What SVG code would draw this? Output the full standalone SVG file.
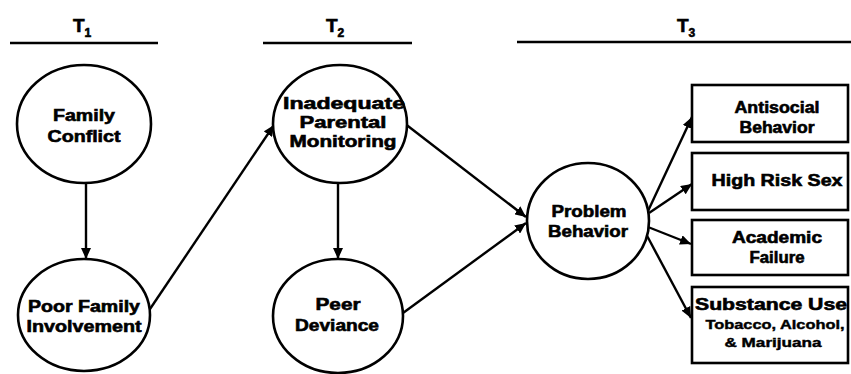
<svg xmlns="http://www.w3.org/2000/svg" width="851" height="374" viewBox="0 0 851 374">
  <defs>
    <marker id="arrow" markerUnits="userSpaceOnUse" markerWidth="12" markerHeight="10" refX="11" refY="5" orient="auto">
      <path d="M0,0 L11,5 L0,10 Z" fill="#000"/>
    </marker>
    <style>
      .node { fill: #fff; stroke: #000; stroke-width: 2.6; }
      .box { fill: #fff; stroke: #000; stroke-width: 2.6; }
      .edge { stroke: #000; stroke-width: 2.4; fill: none; marker-end: url(#arrow); }
      .rule { stroke: #000; stroke-width: 2.4; }
      .lbl { font-family: "Liberation Sans", Arial, sans-serif; font-weight: bold; font-size: 16px; fill: #000; stroke: #000; stroke-width: 0.6; text-anchor: middle; }
      .sm { font-size: 12px; stroke-width: 0.4; }
      .hdr { font-family: "Liberation Sans", Arial, sans-serif; font-weight: bold; font-size: 19px; fill: #000; stroke: #000; stroke-width: 0.6; }
    </style>
  </defs>
  <rect width="851" height="374" fill="#fff"/>

  <!-- time-period headers -->
  <g id="headers">
    <text class="hdr" x="73" y="32">T<tspan font-size="12" dy="5">1</tspan></text>
    <line class="rule" x1="10" y1="43" x2="158" y2="43"/>
    <text class="hdr" x="326" y="32">T<tspan font-size="12" dy="5">2</tspan></text>
    <line class="rule" x1="263" y1="43" x2="412" y2="43"/>
    <text class="hdr" x="677" y="32">T<tspan font-size="12" dy="5">3</tspan></text>
    <line class="rule" x1="517" y1="42" x2="851" y2="42"/>
  </g>

  <!-- connectors -->
  <g id="connectors">
    <line class="edge" x1="86" y1="183" x2="86" y2="259"/>
    <line class="edge" x1="150" y1="309" x2="274" y2="125"/>
    <line class="edge" x1="338" y1="183" x2="338" y2="259"/>
    <line class="edge" x1="404" y1="123" x2="526" y2="217"/>
    <line class="edge" x1="403" y1="313" x2="526" y2="223"/>
    <line class="edge" x1="648" y1="211" x2="692" y2="117"/>
    <line class="edge" x1="649" y1="213" x2="692" y2="184"/>
    <line class="edge" x1="648" y1="227" x2="691" y2="244"/>
    <line class="edge" x1="645" y1="232" x2="691" y2="318"/>
  </g>

  <g id="family-conflict">
    <ellipse class="node" cx="84" cy="124" rx="67" ry="59"/>
    <text class="lbl" x="84" y="121" textLength="62" lengthAdjust="spacingAndGlyphs">Family</text>
    <text class="lbl" x="84" y="142" textLength="73" lengthAdjust="spacingAndGlyphs">Conflict</text>
  </g>

  <g id="poor-family-involvement">
    <ellipse class="node" cx="84" cy="315" rx="66" ry="56"/>
    <text class="lbl" x="84" y="312" textLength="112" lengthAdjust="spacingAndGlyphs">Poor Family</text>
    <text class="lbl" x="84" y="332" textLength="115" lengthAdjust="spacingAndGlyphs">Involvement</text>
  </g>

  <g id="parental-monitoring">
    <ellipse class="node" cx="340" cy="124" rx="67" ry="59"/>
    <text class="lbl" x="344" y="109" textLength="122" lengthAdjust="spacingAndGlyphs">Inadequate</text>
    <text class="lbl" x="343" y="128" textLength="87" lengthAdjust="spacingAndGlyphs">Parental</text>
    <text class="lbl" x="343" y="147" textLength="107" lengthAdjust="spacingAndGlyphs">Monitoring</text>
  </g>

  <g id="peer-deviance">
    <ellipse class="node" cx="338" cy="316" rx="65" ry="57"/>
    <text class="lbl" x="338" y="310" textLength="45" lengthAdjust="spacingAndGlyphs">Peer</text>
    <text class="lbl" x="337" y="331" textLength="84" lengthAdjust="spacingAndGlyphs">Deviance</text>
  </g>

  <g id="problem-behavior">
    <ellipse class="node" cx="588" cy="221" rx="61" ry="58"/>
    <text class="lbl" x="589" y="217" textLength="75" lengthAdjust="spacingAndGlyphs">Problem</text>
    <text class="lbl" x="588" y="237" textLength="80" lengthAdjust="spacingAndGlyphs">Behavior</text>
  </g>

  <g id="antisocial-behavior">
    <rect class="box" x="692" y="85" width="156" height="57"/>
    <text class="lbl" x="777" y="113" textLength="85" lengthAdjust="spacingAndGlyphs">Antisocial</text>
    <text class="lbl" x="777" y="133" textLength="75" lengthAdjust="spacingAndGlyphs">Behavior</text>
  </g>

  <g id="high-risk-sex">
    <rect class="box" x="692" y="153" width="156" height="57"/>
    <text class="lbl" x="777" y="186" textLength="131" lengthAdjust="spacingAndGlyphs">High Risk Sex</text>
  </g>

  <g id="academic-failure">
    <rect class="box" x="692" y="220" width="156" height="55"/>
    <text class="lbl" x="777" y="243" textLength="90" lengthAdjust="spacingAndGlyphs">Academic</text>
    <text class="lbl" x="777" y="263" textLength="55" lengthAdjust="spacingAndGlyphs">Failure</text>
  </g>

  <g id="substance-use">
    <rect class="box" x="692" y="287" width="156" height="76"/>
    <text class="lbl" x="771" y="310" textLength="152" lengthAdjust="spacingAndGlyphs">Substance Use</text>
    <text class="lbl sm" x="775" y="329" textLength="139" lengthAdjust="spacingAndGlyphs">Tobacco, Alcohol,</text>
    <text class="lbl sm" x="773" y="347" textLength="97" lengthAdjust="spacingAndGlyphs">&amp; Marijuana</text>
  </g>
</svg>
